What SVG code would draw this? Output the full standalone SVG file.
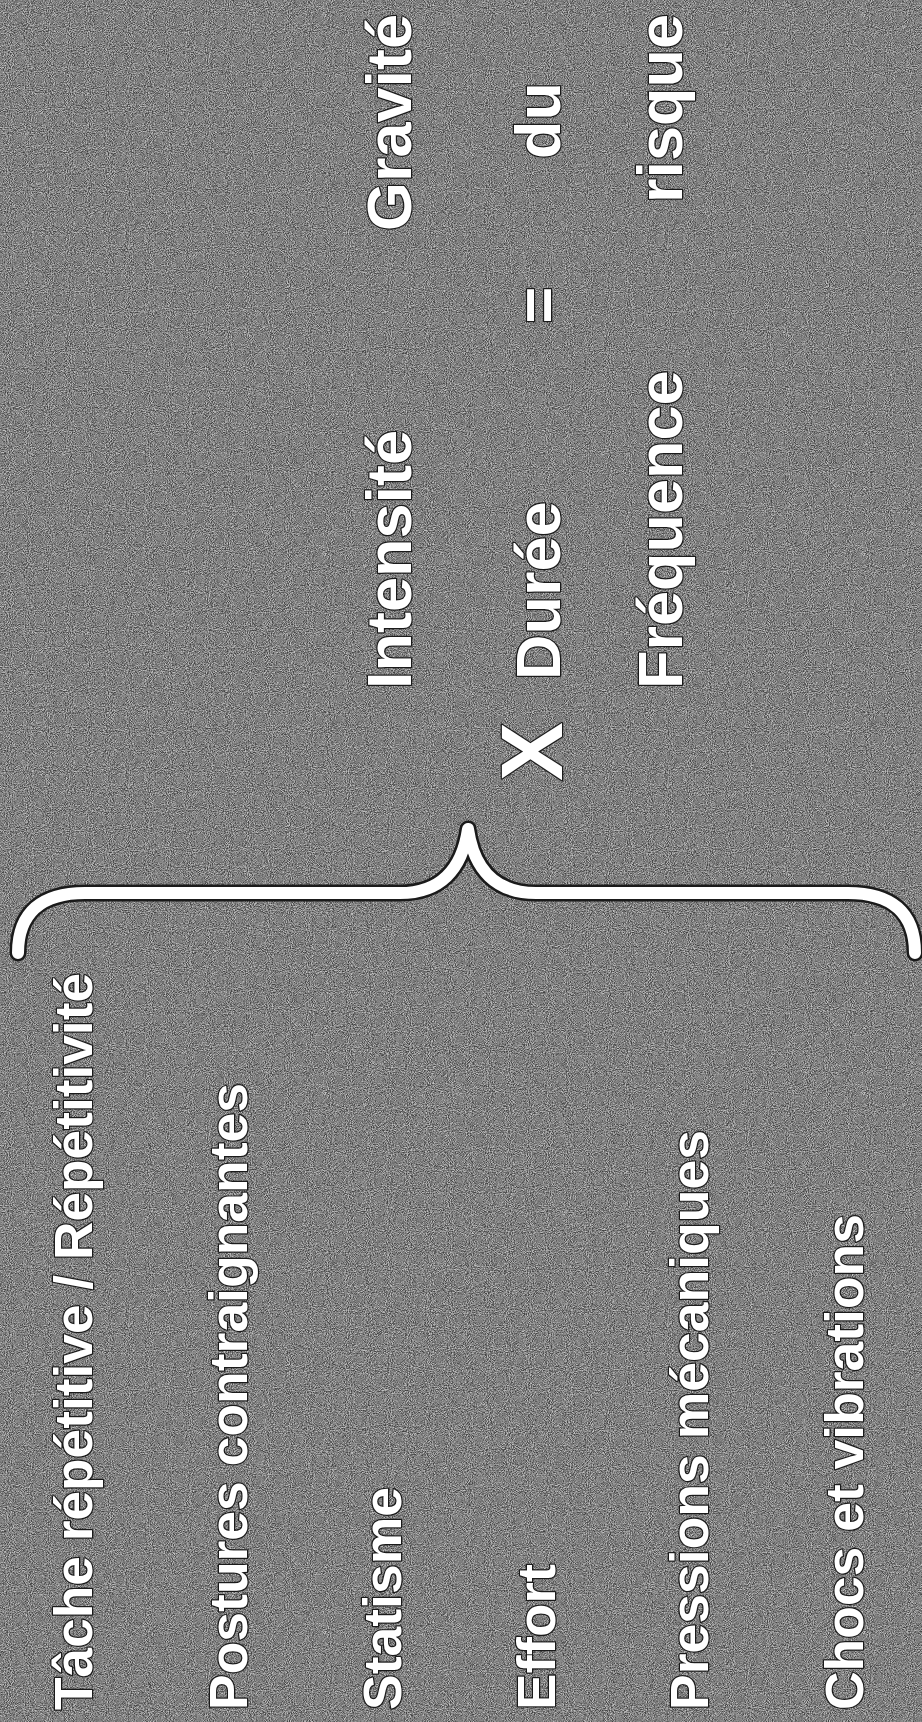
<svg xmlns="http://www.w3.org/2000/svg" width="922" height="1722" viewBox="0 0 922 1722">
  <defs>
    <filter id="grain" x="0" y="0" width="100%" height="100%" filterUnits="userSpaceOnUse" color-interpolation-filters="sRGB">
      <feTurbulence type="fractalNoise" baseFrequency="0.95" numOctaves="2" seed="7" result="t"/>
      <feColorMatrix type="matrix" values="0.33 0.33 0.33 0 0  0.33 0.33 0.33 0 0  0.33 0.33 0.33 0 0  0 0 0 0 1"/>
      <feComponentTransfer>
        <feFuncR type="linear" slope="3.5" intercept="-1.25"/>
        <feFuncG type="linear" slope="3.5" intercept="-1.25"/>
        <feFuncB type="linear" slope="3.5" intercept="-1.25"/>
      </feComponentTransfer>
    </filter>
    <style>
      .lbl { font-family: "Liberation Sans", Arial, Helvetica, sans-serif; font-weight: bold; fill: #ffffff; stroke: #1a1a1a; stroke-width: 2.5; paint-order: stroke; stroke-linejoin: round; }
      .left { font-size: 54px; }
      .right { font-size: 63px; }
      .big { font-size: 88px; }
      .brace-out { fill: none; stroke: #1a1a1a; stroke-width: 17; stroke-linecap: round; stroke-linejoin: round; }
      .brace-in { fill: none; stroke: #ffffff; stroke-width: 12; stroke-linecap: round; stroke-linejoin: round; }
    </style>
  </defs>

  <rect x="0" y="0" width="922" height="1722" fill="#868686"/>
  <rect x="0" y="0" width="922" height="1722" filter="url(#grain)" opacity="0.5"/>

  <g id="connectors">
    <path id="brace" class="brace-out" d="M18,953 C18,912 42,893 85,893 L400,893 C440,893 462,870 468,829 C474,870 496,893 536,893 L848,893 C891,893 915,912 915,953"/>
    <path class="brace-in" d="M18,953 C18,912 42,893 85,893 L400,893 C440,893 462,870 468,829 C474,870 496,893 536,893 L848,893 C891,893 915,912 915,953"/>
  </g>

  <g id="factor-tache">
    <text class="lbl left" transform="translate(92,1710) rotate(-90)" textLength="737" lengthAdjust="spacingAndGlyphs">Tâche répétitive / Répétitivité</text>
  </g>
  <g id="factor-postures">
    <text class="lbl left" transform="translate(247,1710) rotate(-90)" textLength="627" lengthAdjust="spacingAndGlyphs">Postures contraignantes</text>
  </g>
  <g id="factor-statisme">
    <text class="lbl left" transform="translate(401,1710) rotate(-90)" textLength="223" lengthAdjust="spacingAndGlyphs">Statisme</text>
  </g>
  <g id="factor-effort">
    <text class="lbl left" transform="translate(555,1710) rotate(-90)" textLength="146" lengthAdjust="spacingAndGlyphs">Effort</text>
  </g>
  <g id="factor-pressions">
    <text class="lbl left" transform="translate(708,1710) rotate(-90)" textLength="580" lengthAdjust="spacingAndGlyphs">Pressions mécaniques</text>
  </g>
  <g id="factor-chocs">
    <text class="lbl left" transform="translate(863,1710) rotate(-90)" textLength="496" lengthAdjust="spacingAndGlyphs">Chocs et vibrations</text>
  </g>

  <g id="times">
    <text class="lbl big" transform="translate(562,781) rotate(-90)">X</text>
  </g>
  <g id="intensite">
    <text class="lbl right" transform="translate(411,689) rotate(-90)">Intensité</text>
  </g>
  <g id="duree">
    <text class="lbl right" transform="translate(560,680) rotate(-90)">Durée</text>
  </g>
  <g id="frequence">
    <text class="lbl right" transform="translate(682,689) rotate(-90)">Fréquence</text>
  </g>
  <g id="equals">
    <text class="lbl right" transform="translate(560,305) rotate(-90)" text-anchor="middle">=</text>
  </g>
  <g id="gravite">
    <text class="lbl right" transform="translate(411,231) rotate(-90)">Gravité</text>
  </g>
  <g id="du">
    <text class="lbl right" transform="translate(560,159) rotate(-90)">du</text>
  </g>
  <g id="risque">
    <text class="lbl right" transform="translate(682,203) rotate(-90)">risque</text>
  </g>
</svg>
